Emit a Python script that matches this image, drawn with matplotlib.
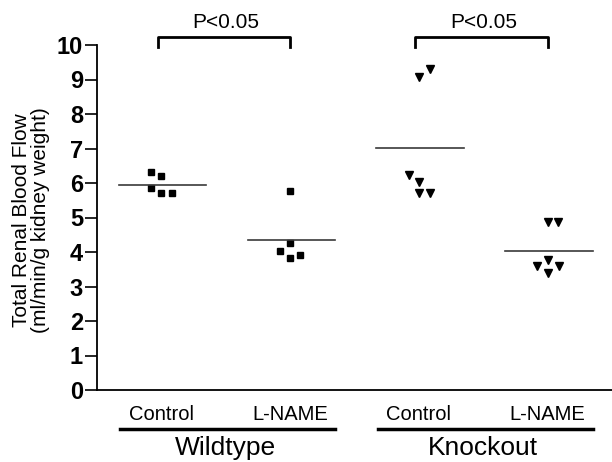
import numpy as np
import matplotlib
matplotlib.use('Agg')
import matplotlib.pyplot as plt

plt.rcParams['font.family'] = ['Liberation Sans', 'DejaVu Sans']

# Values (ml/min/g kidney weight)
wt_control = [6.33, 6.20, 5.85, 5.70, 5.70]
wt_lname = [5.77, 4.25, 4.04, 3.82, 3.91]
ko_control = [9.08, 9.29, 6.23, 6.04, 5.72, 5.72]
ko_lname = [4.88, 4.88, 3.77, 3.60, 3.60, 3.38]

groups = [wt_control, wt_lname, ko_control, ko_lname]
markers = ['s', 's', 'v', 'v']
sub_labels = ['Control', 'L-NAME', 'Control', 'L-NAME']
genotypes = ['Wildtype', 'Knockout']
p_text = 'P<0.05'

# horizontal scatter of points within each column
jitter = [
    [-0.08, 0.0, -0.08, 0.0, 0.08],
    [0.0, 0.0, -0.08, 0.0, 0.08],
    [0.0, 0.085, -0.08, 0.0, 0.0, 0.085],
    [0.0, 0.08, 0.0, -0.08, 0.085, 0.0],
]

fig = plt.figure(figsize=(6.12, 4.62), dpi=100)
ax = fig.add_axes([97 / 612, 72 / 462, 515 / 612, 345 / 462])

for i, (vals, mk, jt) in enumerate(zip(groups, markers, jitter)):
    xpos = i + 1 + np.array(jt)
    ax.plot(xpos, vals, linestyle='none', marker=mk, color='black',
            markersize=5 if mk == 's' else 5.2, clip_on=False)
    m = np.mean(vals)
    ax.plot([i + 1 - 0.33, i + 1 + 0.35], [m, m], color='#3a3a3a', lw=1.2)

ax.set_xlim(0.5, 4.5)
ax.set_ylim(0, 10)
ax.set_yticks(range(0, 11))
ax.tick_params(axis='y', labelsize=17, width=1.2, length=9, pad=1)
for t in ax.get_yticklabels():
    t.set_fontweight('bold')
ax.set_xticks([])
for s in ['top', 'right']:
    ax.spines[s].set_visible(False)
for s in ['left', 'bottom']:
    ax.spines[s].set_linewidth(1.3)

fig.text(31 / 612, 1 - 220 / 462,
         'Total Renal Blood Flow\n(ml/min/g kidney weight)', fontsize=15,
         rotation=90, ha='center', va='center', linespacing=1.0)

# significance brackets
for x0, x1 in [(1, 2), (3, 4)]:
    ax.plot([x0 - 0.03, x0 - 0.03, x1, x1], [9.95, 10.22, 10.22, 9.95],
            color='black', lw=2, clip_on=False)
    ax.text((x0 + x1) / 2, 10.64, p_text, ha='center', va='center', fontsize=15)

# category labels below the axis
for i, lab in enumerate(sub_labels):
    ax.text(i + 1, -0.72, lab, ha='center', va='center', fontsize=14.5)
for k, g in enumerate(genotypes):
    c = 1.5 + 2 * k
    ax.plot([c - 0.82, c + 0.85], [-1.13, -1.13], color='black', lw=2.5,
            clip_on=False)
    ax.text(c, -1.68, g, ha='center', va='center', fontsize=19)

fig.savefig('out.png', dpi=100)
